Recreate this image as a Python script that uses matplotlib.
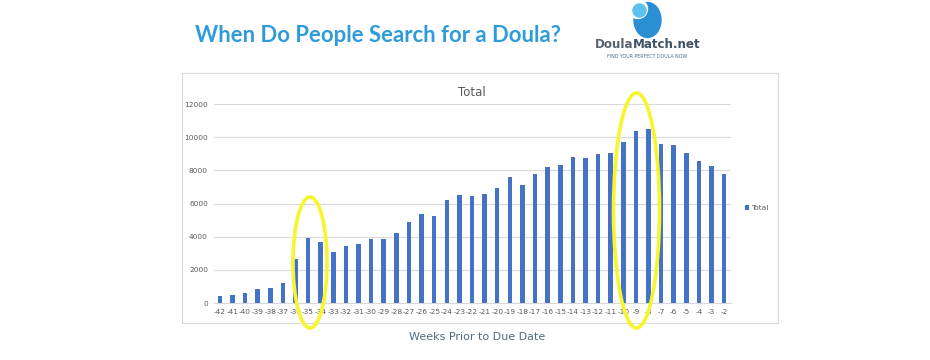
import numpy as np
import matplotlib.pyplot as plt
from matplotlib.patches import Ellipse, Rectangle, Circle

# weeks before due date and search totals
weeks = [-42, -41, -40, -39, -38, -37, -36, -35, -34, -33, -32, -31, -30, -29,
         -28, -27, -26, -25, -24, -23, -22, -21, -20, -19, -18, -17, -16, -15,
         -14, -13, -12, -11, -10, -9, -8, -7, -6, -5, -4, -3, -2]
totals = [420, 460, 620, 820, 900, 1200, 2680, 3930, 3700, 3100, 3460, 3540,
          3850, 3850, 4240, 4900, 5360, 5250, 6220, 6540, 6430, 6580, 6930,
          7600, 7130, 7750, 8180, 8300, 8800, 8760, 9000, 9040, 9720, 10370,
          10520, 9590, 9530, 9040, 8570, 8250, 7780]
yticks = [0, 2000, 4000, 6000, 8000, 10000, 12000]

W, H = 930, 360
fig = plt.figure(figsize=(W / 100, H / 100), dpi=100)

# chart
ax = fig.add_axes([213.5 / W, 1 - 303 / H, 517 / W, 199 / H])
x = np.arange(len(weeks))
ax.bar(x, totals, width=0.36, color="#4472C4", label="Total", zorder=3)
ax.set_xlim(-0.5, len(weeks) - 0.5)
ax.set_ylim(0, 12000)
ax.set_xticks(x)
ax.set_xticklabels([str(w) for w in weeks], fontsize=5.3, color="#595959")
ax.set_yticks(yticks)
ax.set_yticklabels([str(v) for v in yticks], fontsize=5.3, color="#595959")
ax.tick_params(axis="both", length=0, pad=4)
ax.grid(axis="y", color="#D9D9D9", linewidth=0.8, zorder=0)
for s in ["top", "right", "left"]:
    ax.spines[s].set_visible(False)
ax.spines["bottom"].set_color("#D9D9D9")
ax.set_title("Total", fontsize=8.5, color="#595959", pad=6)
ax.legend(loc="center left", bbox_to_anchor=(738 / W, 1 - 208 / H),
          bbox_transform=fig.transFigure, frameon=False, fontsize=5.3,
          handlelength=0.6, handleheight=0.6, handletextpad=0.3,
          labelcolor="#595959")

# overlay in pixel coords for the decorations
ov = fig.add_axes([0, 0, 1, 1])
ov.set_xlim(0, W)
ov.set_ylim(H, 0)
ov.axis("off")
ov.patch.set_alpha(0)

ov.add_patch(Rectangle((181.5, 72.5), 596, 250.5, fill=False,
                       edgecolor="#D9D9D9", linewidth=0.8))

ov.text(195, 35, "When Do People Search for a Doula?", fontsize=15.9,
        fontweight="bold", family="Lato", color="#2E9BDA", va="center",
        ha="left")

# logo
ov.add_patch(Ellipse((647.5, 20), 27, 35, color="#2B8FD3"))
ov.add_patch(Circle((638, 9), 9.5, color="white"))
ov.add_patch(Circle((639.5, 10.5), 6.5, color="#5BC3EE"))
ov.text(633, 45, "Doula", fontsize=8.6, fontweight="bold",
        color="#56636F", ha="right", va="center")
ov.text(633, 45, "Match.net", fontsize=8.6, fontweight="bold",
        color="#3F5366", ha="left", va="center")
ov.text(647, 57, "FIND YOUR PERFECT DOULA NOW", fontsize=3.4,
        color="#4A6C8A", ha="center", va="center")

ov.text(477, 337, "Weeks Prior to Due Date", fontsize=8, color="#4F6B80",
        ha="center", va="center")

# highlight rings
ov.add_patch(Ellipse((310, 262.5), 34, 131, fill=False,
                     edgecolor="#F6F530", linewidth=2.6))
ov.add_patch(Ellipse((636.5, 210.5), 46, 235, fill=False,
                     edgecolor="#F6F530", linewidth=2.6))

fig.savefig("out.png", dpi=100)
plt.close(fig)
